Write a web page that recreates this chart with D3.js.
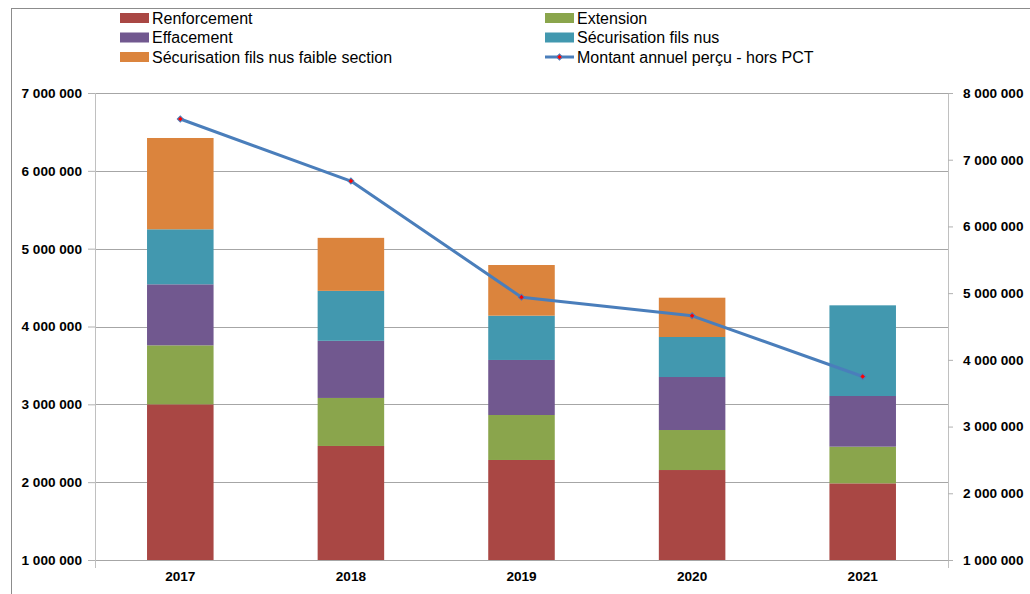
<!DOCTYPE html>
<html>
<head>
<meta charset="utf-8">
<script src="https://cdn.jsdelivr.net/npm/d3@7"></script>
<style>
  body { margin: 0; background: #fff; }
  svg text { font-family: "Liberation Sans", Arial, sans-serif; }
</style>
</head>
<body>
<div id="chart"></div>
<script>
// data
var years = ["2017", "2018", "2019", "2020", "2021"];
var renforcement = [3000000, 2465000, 2285000, 2156000, 1985000];
var extension = [758000, 617000, 578000, 514000, 471000];
var effacement = [784000, 734000, 707000, 681000, 651000];
var securisation = [707000, 642000, 569000, 514000, 1165000];
var securisationFaible = [1173000, 681000, 651000, 505000, 0];
var montantAnnuel = [7610000, 6680000, 4940000, 4660000, 3750000];
var leftTicks = [1000000, 2000000, 3000000, 4000000, 5000000, 6000000, 7000000];
var rightTicks = [1000000, 2000000, 3000000, 4000000, 5000000, 6000000, 7000000, 8000000];

var seriesNames = ["Renforcement", "Extension", "Effacement", "Sécurisation fils nus", "Sécurisation fils nus faible section"];
var seriesValues = [renforcement, extension, effacement, securisation, securisationFaible];
var colors = ["#A94744", "#8AA54C", "#71588F", "#4298AF", "#DB843D"];
var lineName = "Montant annuel perçu - hors PCT";

var svg_width = 1030, svg_height = 594;
var margin = {top: 93, right: 82, bottom: 34, left: 95};
var width = svg_width - margin.left - margin.right;
var height = svg_height - margin.top - margin.bottom;

var svg = d3.select("#chart").append("svg")
  .attr("width", svg_width)
  .attr("height", svg_height);

// chart frame
svg.append("rect")
  .attr("x", 11.5).attr("y", 8.5)
  .attr("width", 1030).attr("height", 600)
  .attr("fill", "none").attr("stroke", "#8c8c8c");

var g = svg.append("g").attr("transform", "translate(" + margin.left + "," + margin.top + ")");

var x = d3.scaleBand().domain(years).range([0, width]).paddingInner(0.61).paddingOuter(0.305);
var yLeft = d3.scaleLinear().domain([1000000, 7000000]).range([height, 0]);
var yRight = d3.scaleLinear().domain([1000000, 8000000]).range([height, 0]);

var fmt = function(v) { return d3.format(",")(v).replace(/,/g, " "); };

// gridlines
g.append("g")
  .selectAll("line")
  .data(leftTicks)
  .enter().append("line")
  .attr("x1", 0).attr("x2", width)
  .attr("y1", function(d) { return Math.round(yLeft(d)) + 0.5; })
  .attr("y2", function(d) { return Math.round(yLeft(d)) + 0.5; })
  .attr("stroke", "#a6a6a6");

// stacked bars
var rows = years.map(function(y, i) {
  var r = {year: y};
  seriesNames.forEach(function(n, k) { r[n] = seriesValues[k][i]; });
  return r;
});
var stack = d3.stack().keys(seriesNames);
var layers = stack(rows);

svg.append("defs").append("clipPath").attr("id", "clip")
  .append("rect").attr("x", 0).attr("y", 0).attr("width", width).attr("height", height);

g.append("g").attr("clip-path", "url(#clip)")
  .selectAll("g")
  .data(layers)
  .enter().append("g")
  .attr("fill", function(d, i) { return colors[i]; })
  .selectAll("rect")
  .data(function(d) { return d; })
  .enter().append("rect")
  .attr("x", function(d) { return x(d.data.year); })
  .attr("width", x.bandwidth())
  .attr("y", function(d) { return yLeft(d[1]); })
  .attr("height", function(d) { return Math.max(0, yLeft(d[0]) - yLeft(d[1])); });

// axes
var leftAxis = g.append("g")
  .call(d3.axisLeft(yLeft).tickValues(leftTicks).tickFormat(fmt).tickSize(7).tickPadding(6));
var rightAxis = g.append("g")
  .attr("transform", "translate(" + width + ",0)")
  .call(d3.axisRight(yRight).tickValues(rightTicks).tickFormat(fmt).tickSize(5).tickPadding(10));
var bottomAxis = g.append("g")
  .attr("transform", "translate(0," + height + ")")
  .call(d3.axisBottom(x).tickSize(0).tickPadding(11));

[leftAxis, rightAxis, bottomAxis].forEach(function(a) {
  a.select(".domain").attr("stroke", "#c0c0c0");
  a.selectAll(".tick line").attr("stroke", "#b0b0b0");
  a.selectAll("text").attr("font-size", "13.6px").attr("font-weight", "bold").attr("fill", "#000")
    .style("font-family", "'Liberation Sans', Arial, sans-serif");
});
leftAxis.select(".domain").attr("d", "M0.5,0V" + (height + 8));
rightAxis.select(".domain").attr("d", "M0.5,0V" + (height + 8));
bottomAxis.select(".domain").remove();

// line series on right axis
var line = d3.line()
  .x(function(d, i) { return x(years[i]) + x.bandwidth() / 2; })
  .y(function(d) { return yRight(d); });

g.append("path")
  .datum(montantAnnuel)
  .attr("d", line)
  .attr("fill", "none")
  .attr("stroke", "#4A7EBB")
  .attr("stroke-width", 3)
  .attr("stroke-linejoin", "round");

var marker = d3.symbol().type(d3.symbolSquare).size(18);
g.selectAll(".marker")
  .data(montantAnnuel)
  .enter().append("path")
  .attr("class", "marker")
  .attr("transform", function(d, i) { return "translate(" + (x(years[i]) + x.bandwidth() / 2) + "," + yRight(d) + ") rotate(45)"; })
  .attr("d", marker)
  .attr("fill", "#ff0000")
  .attr("stroke", "#4A7EBB")
  .attr("stroke-width", 1);

// legend
var legendItems = [
  {name: seriesNames[0], col: 0, row: 0, color: colors[0]},
  {name: seriesNames[1], col: 1, row: 0, color: colors[1]},
  {name: seriesNames[2], col: 0, row: 1, color: colors[2]},
  {name: seriesNames[3], col: 1, row: 1, color: colors[3]},
  {name: seriesNames[4], col: 0, row: 2, color: colors[4]},
  {name: lineName, col: 1, row: 2, color: null}
];
var colX = [120, 545], rowY = [18, 37.5, 57];

var legend = svg.append("g").selectAll("g")
  .data(legendItems)
  .enter().append("g")
  .attr("transform", function(d) { return "translate(" + colX[d.col] + "," + rowY[d.row] + ")"; });

legend.filter(function(d) { return d.color; })
  .append("rect")
  .attr("x", 0).attr("y", -5).attr("width", 29).attr("height", 10)
  .attr("fill", function(d) { return d.color; });

var lineLegend = legend.filter(function(d) { return !d.color; });
lineLegend.append("line")
  .attr("x1", 0).attr("x2", 29).attr("y1", 0).attr("y2", 0)
  .attr("stroke", "#4A7EBB").attr("stroke-width", 3);
lineLegend.append("path")
  .attr("transform", "translate(14.5,0) rotate(45)")
  .attr("d", marker)
  .attr("fill", "#ff0000").attr("stroke", "#4A7EBB").attr("stroke-width", 1);

legend.append("text")
  .attr("x", 32)
  .attr("dy", "0.35em")
  .attr("font-size", "16px")
  .attr("fill", "#000")
  .text(function(d) { return d.name; });
</script>
</body>
</html>
